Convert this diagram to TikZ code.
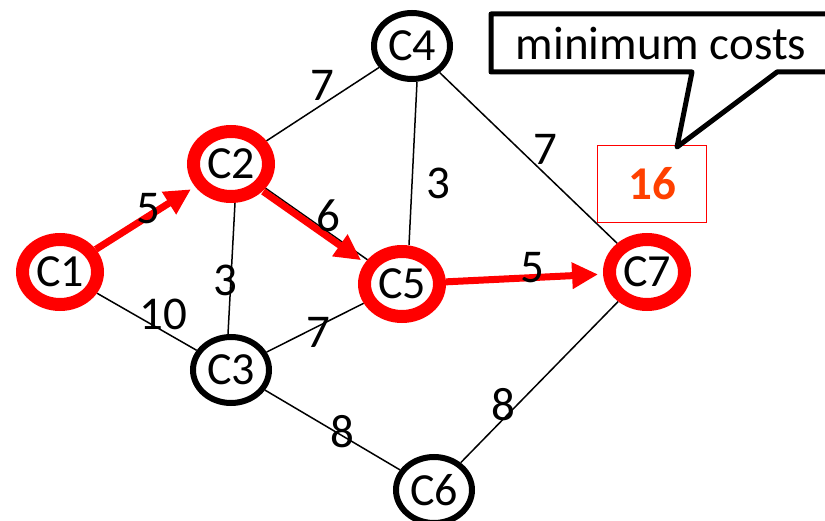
\documentclass[tikz,border=0pt]{standalone}
\usepackage{fontspec}
\setmainfont{Carlito}
\usetikzlibrary{shapes.geometric,arrows.meta,backgrounds}
\definecolor{numorange}{RGB}{255,64,0}
\begin{document}
\begin{tikzpicture}[x=1pt,y=-1pt,
  every node/.style={font=\fontsize{47}{50}\selectfont},
  city/.style={ellipse, draw=black, line width=6pt, minimum width=76pt, minimum height=66pt, inner sep=0pt, fill=white, font=\fontsize{46}{50}\selectfont},
  hot/.style={city, draw=red, line width=13pt, minimum width=75pt, minimum height=65pt},
  edge/.style={line width=1.5pt},
  redarrow/.style={draw=red, line width=7pt, -{Triangle[length=26pt,width=25pt]}, shorten >=5pt},
  wt/.style={inner sep=0pt}]
\useasboundingbox (0,0) rectangle (825,521);

% cities
\node[hot]  (c1) at (60,272)  {C1};
\node[hot]  (c2) at (231,164) {C2};
\node[city] (c3) at (231,370) {C3};
\node[city] (c4) at (412,46)  {C4};
\node[hot]  (c5) at (402,284) {C5};
\node[city] (c6) at (434,490) {C6};
\node[hot]  (c7) at (647,272) {C7};

\begin{scope}[on background layer]
\draw[edge] (c1) -- (c3);
\draw[edge] ([xshift=4pt]c2.south) -- ([xshift=-3pt]c3.north);
\draw[edge] (c2) -- (c4);
\draw[edge] (c2) -- (c5);
\draw[edge] (c3) -- (c5);
\draw[edge] (c3) -- (c6);
\draw[edge] ([xshift=5pt]c4.south) -- ([xshift=7pt]c5.north);
\draw[edge] (c4) -- (c7);
\draw[edge] (c6) -- (c7);
\draw[redarrow] (c1) -- (c2);
\draw[redarrow, transform canvas={shift={(-2.3pt,-3.3pt)}}] (c2) -- (c5);
\draw[redarrow] (c5) -- (c7);
\end{scope}

% weights
\node[wt] (w12) at (148,209) {5};
\node[wt] (w13) at (163,314) {10};
\node[wt] (w23) at (225,280) {3};
\node[wt] (w24) at (322,85)  {7};
\node[wt] (w25) at (328,216) {6};
\node[wt] (w35) at (318,332) {7};
\node[wt] (w36) at (342,432) {8};
\node[wt] (w45) at (438,183) {3};
\node[wt] (w47) at (545,149) {7};
\node[wt] (w57) at (532,268) {5};
\node[wt] (w67) at (503,405) {8};

% result box
\node[draw=red, line width=1.5pt, minimum width=109pt, minimum height=77pt, inner sep=0pt,
      text=numorange, font=\fontsize{47}{50}\selectfont\bfseries] (res) at (652,184) {16};

% callout
\node[anchor=base, inner sep=0pt] (note) at (661,60) {minimum costs};
\coordinate (tip) at (677,147);
\draw[line width=5pt, line join=round]
  (491,14) -- (835,14) -- (835,72) -- (777,72) -- (tip) -- (692,72) -- (491,72) -- cycle;
\end{tikzpicture}
\end{document}
